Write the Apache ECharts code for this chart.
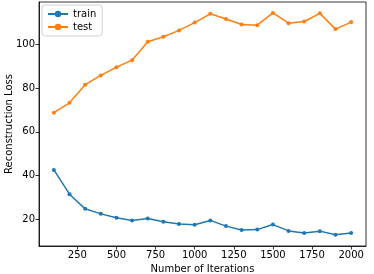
<!DOCTYPE html>
<html><head><meta charset="utf-8">
<script src="https://cdn.jsdelivr.net/npm/echarts@6/dist/echarts.min.js"></script>
<style>html,body{margin:0;padding:0;background:#fff}#c{width:374px;height:274px}</style>
</head><body><div id="c"></div>
<script>
const iterations = [100,200,300,400,500,600,700,800,900,1000,1100,1200,1300,1400,1500,1600,1700,1800,1900,2000];
const trainLoss = [42.6,31.5,24.8,22.5,20.7,19.5,20.4,18.9,17.9,17.5,19.5,16.9,15.1,15.3,17.6,14.7,13.7,14.6,12.9,13.7];
const testLoss = [68.8,73.3,81.6,85.8,89.6,92.8,101.2,103.5,106.4,110.0,114.0,111.6,109.1,108.8,114.4,109.7,110.5,114.2,107.0,110.2];
const xTicks = [250,500,750,1000,1250,1500,1750,2000];
const yTicks = [20,40,60,80,100];

const font = 'DejaVu Sans';
const chart = echarts.init(document.getElementById('c'), null, {renderer:'canvas'});
chart.setOption({
  animation: false,
  grid: {left: 39, right: 8, top: 2, bottom: 28, outerBoundsMode: 'none', containLabel: false,
         show: true, borderColor: '#000', borderWidth: 0.8, backgroundColor: 'transparent'},
  legend: {
    left: 42, top: 5, orient: 'vertical', itemGap: 3, itemWidth: 20, itemHeight: 8,
    padding: [4, 6, 4, 5],
    borderColor: '#d0d0d0', borderWidth: 1, borderRadius: 3, backgroundColor: 'rgba(255,255,255,0.8)',
    textStyle: {fontFamily: font, fontSize: 10, color: '#000'},
    data: ['train', 'test']
  },
  xAxis: {
    type: 'value', min: 5, max: 2095, name: 'Number of Iterations', nameLocation: 'middle', nameGap: 18,
    nameMoveOverlap: false,
    nameTextStyle: {fontFamily: font, fontSize: 10, color: '#000'},
    axisLine: {show: true, onZero: false, lineStyle: {color: '#000', width: 0.8}},
    axisTick: {show: true, length: 3.5, lineStyle: {color: '#000', width: 0.8}, customValues: xTicks},
    axisLabel: {fontFamily: font, fontSize: 10, color: '#000', margin: 4, customValues: xTicks,
                formatter: v => String(v)},
    splitLine: {show: false}
  },
  yAxis: {
    type: 'value', min: 7.8, max: 119.4, name: 'Reconstruction Loss', nameLocation: 'middle', nameGap: 25,
    nameMoveOverlap: false,
    nameTextStyle: {fontFamily: font, fontSize: 10, color: '#000'},
    axisLine: {show: true, onZero: false, lineStyle: {color: '#000', width: 0.8}},
    axisTick: {show: true, length: 3.5, lineStyle: {color: '#000', width: 0.8}, customValues: yTicks},
    axisLabel: {fontFamily: font, fontSize: 10, color: '#000', margin: 4, customValues: yTicks,
                formatter: v => String(v)},
    splitLine: {show: false}
  },
  series: [
    {name: 'train', type: 'line', data: iterations.map((x,i)=>[x, trainLoss[i]]), symbol: 'circle', symbolSize: 4,
     itemStyle: {color: '#1f77b4'}, lineStyle: {color: '#1f77b4', width: 1.5}},
    {name: 'test', type: 'line', data: iterations.map((x,i)=>[x, testLoss[i]]), symbol: 'circle', symbolSize: 4,
     itemStyle: {color: '#ff7f0e'}, lineStyle: {color: '#ff7f0e', width: 1.5}}
  ]
});
</script></body></html>
